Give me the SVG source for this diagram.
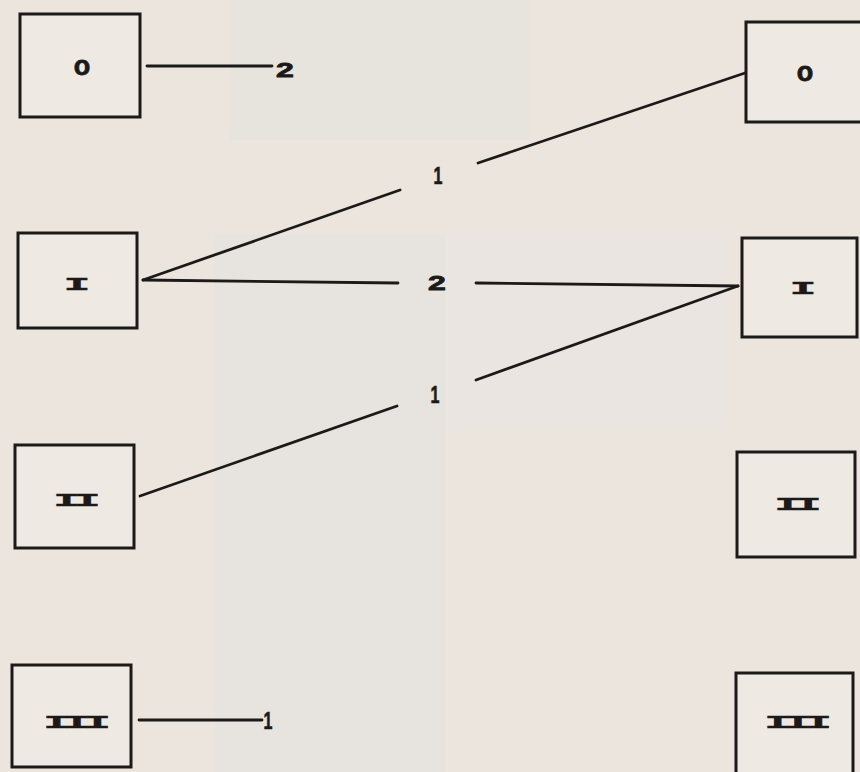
<svg xmlns="http://www.w3.org/2000/svg" width="860" height="772" viewBox="0 0 860 772">
<style>
.box{fill:#eee9e3;stroke:#1c1a18;stroke-width:3}
.edge{fill:none;stroke:#1c1a18;stroke-width:2.8;stroke-linecap:round}
.num{font-family:"Liberation Mono",monospace;font-weight:bold;fill:#1c1a18;stroke:#1c1a18;stroke-width:0.6;text-anchor:middle}
.lab{font-family:"Liberation Sans",sans-serif;font-weight:bold;fill:#1c1a18;stroke:#1c1a18;stroke-width:0.8;text-anchor:middle}
.one{font-family:"Liberation Sans",sans-serif;font-weight:bold;fill:#1c1a18;stroke:#1c1a18;stroke-width:0.6;text-anchor:middle;font-size:23px}
</style>
<rect width="860" height="772" fill="#ebe5de"/>
<rect x="230" y="0" width="300" height="140" fill="#e6e2dd" opacity="0.7"/>
<rect x="215" y="235" width="230" height="537" fill="#e4e1dd" opacity="0.6"/>
<rect x="445" y="230" width="280" height="200" fill="#e9e5e1" opacity="0.6"/>
<g id="nodeL0"><rect class="box" x="20" y="14" width="120" height="103"/><text class="lab" x="82" y="75" font-size="27">o</text></g>
<g id="nodeLI"><rect class="box" x="18" y="233" width="119" height="95"/><text class="num" transform="translate(77,290) scale(2,0.85)" font-size="22">I</text></g>
<g id="nodeLII"><rect class="box" x="15" y="445" width="119" height="103"/><text class="num" transform="translate(74,506) scale(2,0.85)" font-size="22" letter-spacing="-3">II</text></g>
<g id="nodeLIII"><rect class="box" x="12" y="665" width="119" height="102"/><text class="num" transform="translate(74,728) scale(2,0.85)" font-size="22" letter-spacing="-3">III</text></g>
<g id="nodeR0"><rect class="box" x="746" y="22" width="130" height="100"/><text class="lab" x="805" y="81" font-size="27">o</text></g>
<g id="nodeRI"><rect class="box" x="742" y="238" width="115" height="99"/><text class="num" transform="translate(803,294) scale(2,0.85)" font-size="22">I</text></g>
<g id="nodeRII"><rect class="box" x="737" y="452" width="118" height="105"/><text class="num" transform="translate(795,510) scale(2,0.85)" font-size="22" letter-spacing="-3">II</text></g>
<g id="nodeRIII"><rect class="box" x="736" y="673" width="117" height="110"/><text class="num" transform="translate(795,728) scale(2,0.85)" font-size="22" letter-spacing="-3">III</text></g>
<g id="connectors">
<path class="edge" d="M147 66 H272"/>
<path class="edge" d="M139 720 H262"/>
<path class="edge" d="M143 280 L400 190"/>
<path class="edge" d="M143 280 L398 283"/>
<path class="edge" d="M478 163 L745 73"/>
<path class="edge" d="M476 283 L738 286"/>
<path class="edge" d="M738 286 L476 380"/>
<path class="edge" d="M397 406 L140 496"/>
</g>
<g id="labels">
<text class="lab" transform="translate(285,77) scale(1.6,1)" font-size="20">2</text>
<text class="lab" transform="translate(437,290) scale(1.6,1)" font-size="20">2</text>
<text class="one" transform="translate(438,184) scale(0.7,1)">1</text>
<text class="one" transform="translate(435,403) scale(0.7,1)">1</text>
<text class="one" transform="translate(268,729) scale(0.7,1)">1</text>
</g>
</svg>
